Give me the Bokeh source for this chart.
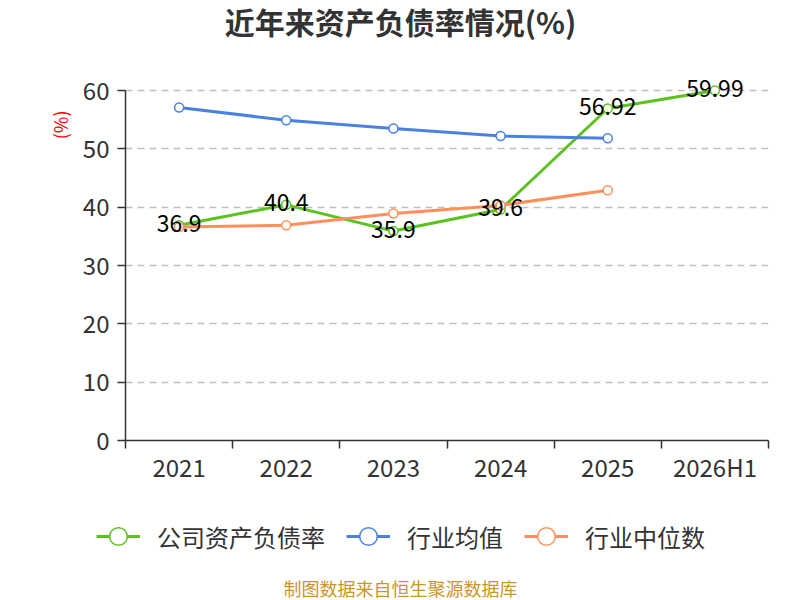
from bokeh.plotting import figure
from bokeh.models import (Range1d, FixedTicker, Legend, LegendItem, Title, Label,
                          ColumnDataSource)
from bokeh.layouts import column
from bokeh.core.properties import value
from bokeh.embed import file_html
from bokeh.resources import INLINE

categories = ["2021", "2022", "2023", "2024", "2025", "2026H1"]
company = [36.9, 40.4, 35.9, 39.6, 56.92, 59.99]
industry_avg = [57.1, 54.9, 53.5, 52.2, 51.8]
industry_median = [36.6, 36.9, 38.9, 40.3, 42.9]
company_labels = ["36.9", "40.4", "35.9", "39.6", "56.92", "59.99"]
y_ticks = [0, 10, 20, 30, 40, 50, 60]
series_names = ["公司资产负债率", "行业均值", "行业中位数"]

FONT = "Noto Sans CJK SC"
GREEN = "#5bc21f"
BLUE = "#4a80e0"
ORANGE = "#ff8f5c"
COLORS = [GREEN, BLUE, ORANGE]


def blank_figure(h):
    f = figure(width=800, height=h, output_backend="svg", toolbar_location=None,
               x_range=Range1d(0, 800), y_range=Range1d(0, h),
               min_border_left=0, min_border_right=0, min_border_top=0, min_border_bottom=0)
    f.axis.visible = False
    f.grid.grid_line_color = None
    f.outline_line_color = None
    f.frame_align = False
    return f


# ---- title figure ----
p0 = blank_figure(45)
p0.add_layout(Label(x=400, y=25, text="近年来资产负债率情况(%)", text_align="center",
                    text_baseline="middle", text_font=FONT, text_font_size="30px",
                    text_font_style="bold", text_color="#333333"))

# ---- main chart ----
# 60 units = 350 px; the frame extends 24 px above 60 so the top label is not clipped
y_top = 60 + 24 * 60 / 350
p = figure(width=800, height=455, output_backend="svg", toolbar_location=None,
           x_range=Range1d(0, len(categories)), y_range=Range1d(0, y_top),
           min_border_left=125, min_border_right=32, min_border_top=21,
           min_border_bottom=60)
p.frame_align = False
p.outline_line_color = None
p.background_fill_color = "white"
p.title.text = ""
p.title.standoff = 0

xs = [i + 0.5 for i in range(len(categories))]

p.xaxis.ticker = FixedTicker(ticks=xs, minor_ticks=list(range(len(categories) + 1)))
p.xaxis.major_label_overrides = {x: c for x, c in zip(xs, categories)}
p.xaxis.major_tick_line_color = None
p.xaxis.major_tick_out = 0
p.xaxis.major_tick_in = 0
p.xaxis.minor_tick_out = 8
p.xaxis.minor_tick_in = 0
p.xaxis.minor_tick_line_color = "#333333"
p.xaxis.minor_tick_line_width = 1.5
p.xaxis.axis_line_color = "#333333"
p.xaxis.axis_line_width = 1.5
p.xaxis.major_label_text_font = FONT
p.xaxis.major_label_text_font_size = "24px"
p.xaxis.major_label_text_color = "#333333"
p.xaxis.major_label_standoff = 0

p.yaxis.ticker = FixedTicker(ticks=y_ticks)
p.yaxis.bounds = (0, 60)
p.yaxis.axis_line_color = "#333333"
p.yaxis.axis_line_width = 1.5
p.yaxis.major_tick_line_color = "#333333"
p.yaxis.major_tick_line_width = 1.5
p.yaxis.major_tick_out = 8
p.yaxis.major_tick_in = 0
p.yaxis.minor_tick_line_color = None
p.yaxis.major_label_text_font = FONT
p.yaxis.major_label_text_font_size = "24px"
p.yaxis.major_label_text_color = "#333333"
p.yaxis.major_label_standoff = 8

p.xgrid.grid_line_color = None
p.ygrid.ticker = FixedTicker(ticks=y_ticks)
p.ygrid.grid_line_color = "#c0c0c0"
p.ygrid.grid_line_dash = "7 5"
p.ygrid.grid_line_width = 1.5

n_avg = len(industry_avg)
n_med = len(industry_median)
p.line(xs, company, line_color=GREEN, line_width=3)
p.scatter(xs, company, size=9, fill_color="white", line_color=GREEN, line_width=1.5)
p.line(xs[:n_avg], industry_avg, line_color=BLUE, line_width=3)
p.scatter(xs[:n_avg], industry_avg, size=9, fill_color="white", line_color=BLUE, line_width=1.5)
p.line(xs[:n_med], industry_median, line_color=ORANGE, line_width=3)
p.scatter(xs[:n_med], industry_median, size=9, fill_color="white", line_color=ORANGE, line_width=1.5)

src = ColumnDataSource(dict(x=xs, y=company, t=company_labels))
p.text(x="x", y="y", text="t", source=src, text_align="center", text_baseline="middle",
       y_offset=-2, text_font=value(FONT), text_font_size="23px", text_color="black")

p.add_layout(Title(text="(%)", align="right", text_font=FONT, text_font_size="18px",
                   text_font_style="normal", text_color="red", offset=44, standoff=14),
             "left")

# ---- legend + source note ----
p2 = blank_figure(100)
items = []
for name, col in zip(series_names, COLORS):
    # legend swatches only: a single point placed outside the visible range
    r1 = p2.line([-50, -40], [-50, -50], line_color=col, line_width=3)
    r2 = p2.scatter([-50], [-50], fill_color="white", line_color=col, line_width=1.5)
    items.append(LegendItem(label=name, renderers=[r1, r2]))

legend = Legend(items=items, orientation="horizontal", location=(96, 40),
                glyph_width=44, glyph_height=48,
                label_text_font=FONT, label_text_font_size="24px", label_text_color="#333333",
                label_height=48, label_standoff=17, spacing=21, padding=0, margin=0,
                border_line_color=None, background_fill_alpha=0)
p2.add_layout(legend, "center")

p2.add_layout(Label(x=400, y=13, text="制图数据来自恒生聚源数据库", text_align="center",
                    text_baseline="middle", text_font=FONT, text_font_size="18px",
                    text_color="#c9962c"))

open("out.html", "w").write(file_html(column(p0, p, p2), INLINE))
